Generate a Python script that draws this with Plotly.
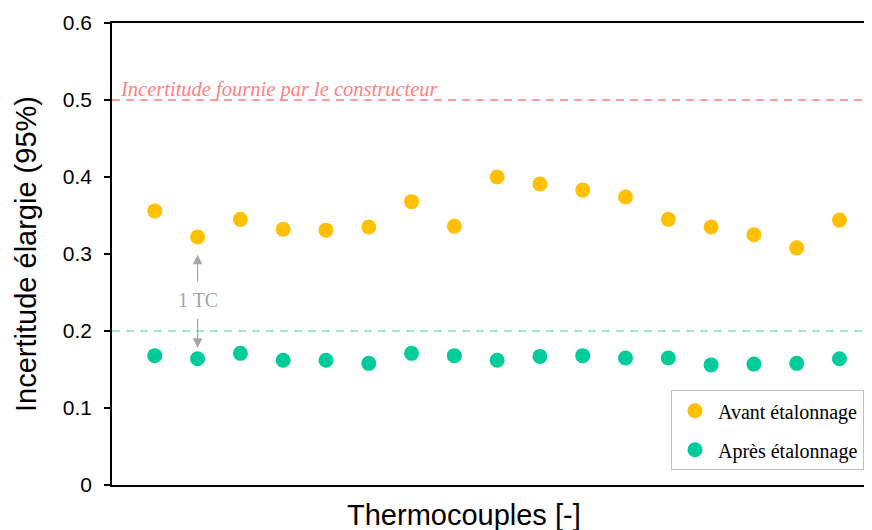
import plotly.graph_objects as go

# Données
thermocouples = list(range(1, 18))
avant_etalonnage = [0.356, 0.322, 0.345, 0.332, 0.331, 0.335, 0.368, 0.336, 0.400,
                    0.391, 0.383, 0.374, 0.345, 0.335, 0.325, 0.308, 0.344]
apres_etalonnage = [0.168, 0.164, 0.171, 0.162, 0.162, 0.158, 0.171, 0.168, 0.162,
                    0.167, 0.168, 0.165, 0.165, 0.156, 0.157, 0.158, 0.164]
seuil_constructeur = 0.5
seuil_cible = 0.2
y_ticks = [0, 0.1, 0.2, 0.3, 0.4, 0.5, 0.6]
y_tick_labels = ["0", "0.1", "0.2", "0.3", "0.4", "0.5", "0.6"]

JAUNE = "#FFC000"
VERT = "#00CC99"
GRIS = "#A6A6A6"
SERIF = "Liberation Serif, Times New Roman, serif"
SANS = "Liberation Sans, Arial, sans-serif"

fig = go.Figure()

fig.add_trace(go.Scatter(
    x=thermocouples, y=avant_etalonnage, mode="markers",
    name="Avant étalonnage", legendgroup="avant",
    marker=dict(color=JAUNE, size=15),
))
fig.add_trace(go.Scatter(
    x=thermocouples, y=apres_etalonnage, mode="markers",
    name="Après étalonnage", legendgroup="apres",
    marker=dict(color=VERT, size=15),
))

# Lignes de référence
fig.add_shape(type="line", xref="paper", yref="y", x0=0, x1=1,
              y0=seuil_constructeur, y1=seuil_constructeur,
              line=dict(color="#FF7F7F", width=1.3, dash="8px,6px"), layer="below")
fig.add_shape(type="line", xref="paper", yref="y", x0=0, x1=1,
              y0=seuil_cible, y1=seuil_cible,
              line=dict(color="#7FE0C8", width=1.3, dash="8px,6px"), layer="below")

fig.add_annotation(
    xref="paper", yref="y", x=0.008, y=seuil_constructeur, yshift=-3,
    xanchor="left", yanchor="bottom", showarrow=False,
    text="<i>Incertitude fournie par le constructeur</i>",
    font=dict(family=SERIF, size=20.5, color="#FF8080"),
)

# Annotation 1 TC
fig.add_annotation(
    x=2, y=0.240, text="1 TC", showarrow=False,
    font=dict(family=SERIF, size=20, color=GRIS),
)
fig.add_annotation(
    x=2, y=0.299, ax=2, ay=0.262, axref="x", ayref="y", text="",
    showarrow=True, arrowhead=2, arrowsize=1.6, arrowwidth=1.2, arrowcolor=GRIS,
)
fig.add_annotation(
    x=2, y=0.178, ax=2, ay=0.218, axref="x", ayref="y", text="",
    showarrow=True, arrowhead=2, arrowsize=1.6, arrowwidth=1.2, arrowcolor=GRIS,
)

# Titre de l'axe x (décalé à gauche comme dans l'original)
fig.add_annotation(
    xref="paper", yref="paper", x=0.463, y=-0.065,
    xanchor="center", yanchor="middle", showarrow=False,
    text="Thermocouples [-]", font=dict(family=SANS, size=29, color="black"),
)

fig.update_layout(
    width=864, height=522,
    margin=dict(l=104, r=0, t=15, b=45, autoexpand=False),
    paper_bgcolor="white", plot_bgcolor="white",
    font=dict(family=SANS, color="black"),
    showlegend=True,
    legend=dict(
        x=0.7355, y=0.032, xanchor="left", yanchor="bottom",
        bgcolor="white", bordercolor="#BFBFBF", borderwidth=1,
        font=dict(family=SERIF, size=20, color="black"),
        itemsizing="trace", itemwidth=36, tracegroupgap=10,
    ),
    xaxis=dict(
        range=[0, 17.76], showticklabels=False, ticks="", showgrid=False,
        zeroline=False, showline=True, linecolor="black", linewidth=1.5,
        mirror=True, automargin=False,
    ),
    yaxis=dict(
        range=[0, 0.6], tickvals=y_ticks, ticktext=y_tick_labels,
        ticks="outside", ticklen=6, tickwidth=1.5, tickcolor="black",
        ticklabelstandoff=8,
        tickfont=dict(size=21), showgrid=False, zeroline=False,
        showline=True, linecolor="black", linewidth=1.5, mirror=True,
        automargin=False,
        title=dict(text="Incertitude élargie (95%)", font=dict(size=29), standoff=18),
    ),
)

fig.write_html("out.html")
